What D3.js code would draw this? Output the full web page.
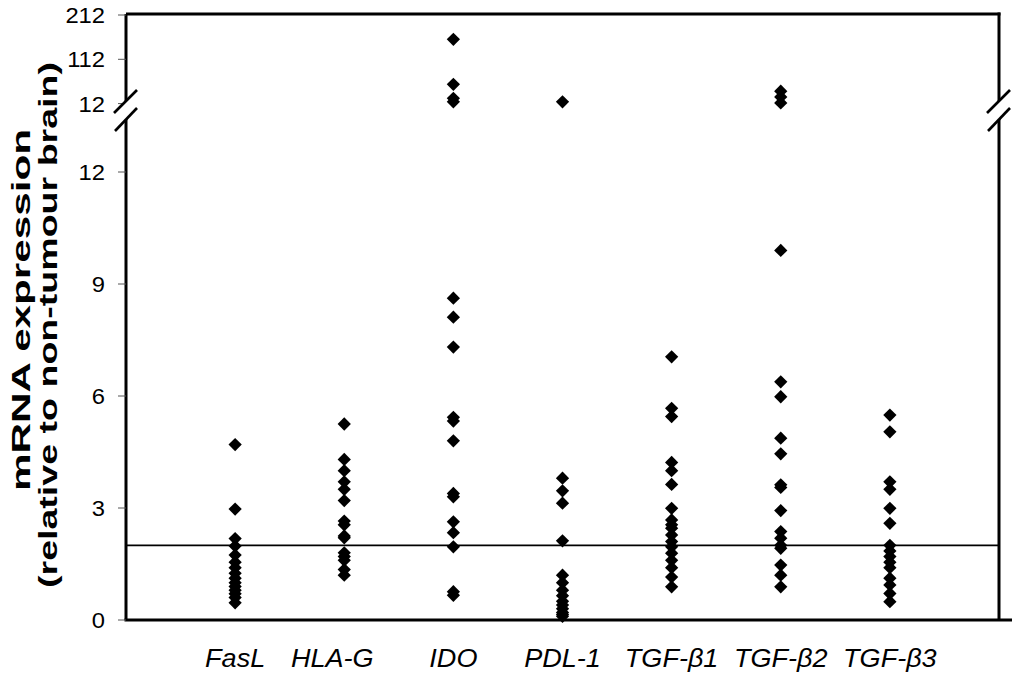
<!DOCTYPE html>
<html>
<head>
<meta charset="utf-8">
<script src="https://cdn.jsdelivr.net/npm/d3@7"></script>
<style>
  html, body { margin: 0; padding: 0; background: #fff; }
  svg { display: block; }
  text { font-family: "Liberation Sans", Arial, sans-serif; fill: #000; }
</style>
</head>
<body>
<script>
// ---------------- data ----------------
const categories = ["FasL", "HLA-G", "IDO", "PDL-1", "TGF-\u03B21", "TGF-\u03B22", "TGF-\u03B23"];
const fasL  = [4.7, 2.97, 2.18, 1.98, 1.74, 1.55, 1.4, 1.25, 1.12, 1.0, 0.9, 0.8, 0.7, 0.6, 0.46];
const hlaG  = [5.25, 4.3, 4.0, 3.7, 3.5, 3.2, 2.65, 2.55, 2.25, 2.2, 1.8, 1.7, 1.6, 1.35, 1.2];
const ido   = [157, 55.6, 24, 16, 8.62, 8.11, 7.31, 5.43, 5.33, 4.8, 3.39, 3.3, 2.63, 2.34, 1.96, 0.76, 0.66];
const pdl1  = [16, 3.8, 3.46, 3.13, 2.12, 1.2, 1.0, 0.8, 0.65, 0.5, 0.4, 0.3, 0.2, 0.15, 0.1];
const tgfb1 = [7.05, 5.67, 5.45, 4.22, 4.0, 3.63, 2.99, 2.68, 2.55, 2.46, 2.28, 2.1, 1.96, 1.79, 1.6, 1.4, 1.15, 0.89];
const tgfb2 = [40, 27, 13.4, 9.9, 6.38, 5.98, 4.87, 4.45, 3.62, 3.55, 2.93, 2.37, 2.19, 2.0, 1.92, 1.47, 1.2, 0.89];
const tgfb3 = [5.49, 5.04, 3.7, 3.5, 2.99, 2.59, 2.0, 1.85, 1.7, 1.55, 1.4, 1.12, 0.94, 0.71, 0.49];
const seriesValues = [fasL, hlaG, ido, pdl1, tgfb1, tgfb2, tgfb3];
const lowerTicks = [0, 3, 6, 9, 12];
const upperTicks = [12, 112, 212];
const referenceLevel = 2;
const yTitle = ["mRNA expression", "(relative to non-tumour brain)"];

// ---------------- layout ----------------
const W = 1012, H = 675;
const mL = 126, mR = 999, mT = 14, mB = 620;
const breakValue = 13;
const labelShift = {"HLA-G": -12};

const svg = d3.select("body").append("svg").attr("width", W).attr("height", H);

const x = d3.scalePoint().domain(categories).range([mL, mR]).padding(1);
const yLow = d3.scaleLinear().domain([0, 12]).range([mB, 172]);
const yUp  = d3.scaleLinear().domain([12, 212]).range([103.6, 15]);
const y = v => v > breakValue ? yUp(v) : yLow(v);

// reference line
svg.append("line")
  .attr("x1", mL).attr("x2", mR)
  .attr("y1", yLow(referenceLevel)).attr("y2", yLow(referenceLevel))
  .attr("stroke", "#000").attr("stroke-width", 1.6);

// points
const diamond = d3.symbol().type(d3.symbolSquare).size(88)();
const pts = [];
seriesValues.forEach((arr, i) => arr.forEach(v => pts.push({c: categories[i], v})));
svg.append("g").selectAll("path").data(pts).join("path")
  .attr("d", diamond)
  .attr("transform", d => `translate(${x(d.c)},${y(d.v)}) rotate(45)`)
  .attr("fill", "#000");

// frame
const frame = svg.append("g").attr("stroke", "#000").attr("stroke-width", 3).attr("fill", "none");
frame.append("line").attr("x1", mL).attr("x2", mR + 1.5).attr("y1", mT).attr("y2", mT);
frame.append("line").attr("x1", mL).attr("x2", mL).attr("y1", mT).attr("y2", mB);
frame.append("line").attr("x1", mR).attr("x2", mR).attr("y1", mT - 1.5).attr("y2", mB);
frame.append("line").attr("x1", mL - 1.5).attr("x2", W).attr("y1", mB).attr("y2", mB);

// ticks
const tickG = svg.append("g").attr("stroke", "#555").attr("stroke-width", 1);
lowerTicks.forEach(t => tickG.append("line").attr("x1", mL - 8).attr("x2", mL)
  .attr("y1", yLow(t)).attr("y2", yLow(t)));
upperTicks.forEach(t => tickG.append("line").attr("x1", mL - 8).attr("x2", mL)
  .attr("y1", yUp(t)).attr("y2", yUp(t)));

// break marks on both vertical axes
function breakMark(ax) {
  const g = svg.append("g");
  g.append("polygon")
    .attr("points", [[ax - 12, 113], [ax + 11, 90], [ax + 11, 108], [ax - 11, 131]].map(p => p.join(",")).join(" "))
    .attr("fill", "#fff");
  g.append("line").attr("x1", ax - 12).attr("y1", 113).attr("x2", ax + 11).attr("y2", 90)
    .attr("stroke", "#000").attr("stroke-width", 2.6);
  g.append("line").attr("x1", ax - 11).attr("y1", 131).attr("x2", ax + 11).attr("y2", 108)
    .attr("stroke", "#000").attr("stroke-width", 2.6);
}
breakMark(mL);
breakMark(mR);

// tick labels
const labG = svg.append("g");
function yLabel(t, yy) {
  labG.append("text")
    .attr("transform", `translate(105,${yy + 8}) scale(1.08,1)`)
    .attr("text-anchor", "end").attr("font-size", 22).text(t);
}
lowerTicks.forEach(t => yLabel(t, yLow(t)));
upperTicks.forEach(t => yLabel(t, yUp(t)));

// category labels
svg.append("g").selectAll("text").data(categories).join("text")
  .attr("transform", d => `translate(${x(d) + (labelShift[d] || 0)},667) scale(1.04,1)`)
  .attr("text-anchor", "middle").attr("font-size", 26).attr("font-style", "italic")
  .text(d => d);

// y title
const tg = svg.append("g").attr("transform", "rotate(-90)");
tg.append("text").attr("x", -310).attr("y", 30).attr("text-anchor", "middle")
  .attr("font-size", 25).attr("font-weight", "bold")
  .attr("textLength", 362).attr("lengthAdjust", "spacingAndGlyphs").text(yTitle[0]);
tg.append("text").attr("x", -325).attr("y", 57).attr("text-anchor", "middle")
  .attr("font-size", 25).attr("font-weight", "bold")
  .attr("textLength", 526).attr("lengthAdjust", "spacingAndGlyphs").text(yTitle[1]);
</script>
</body>
</html>
